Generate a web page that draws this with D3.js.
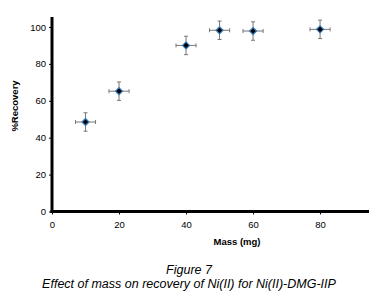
<!DOCTYPE html>
<html><head><meta charset="utf-8">
<script src="https://cdn.jsdelivr.net/npm/d3@7/dist/d3.min.js"></script>
<style>body{margin:0;background:#fff}svg{display:block}</style>
</head><body><svg width="376" height="300"></svg>
<script>
const mass = [10, 20, 40, 50, 60, 80];
const recovery = [48.5, 65.2, 90.0, 98.2, 97.8, 98.7];
const yErr = [5, 5, 5, 5, 5, 5];
const xErr = [3, 3, 3, 3, 3, 3];
const xTicks = [0, 20, 40, 60, 80];
const yTicks = [0, 20, 40, 60, 80, 100];

const svg = d3.select("svg");
const x = d3.scaleLinear().domain([0, 94.6]).range([52, 369]);
const y = d3.scaleLinear().domain([0, 105.4]).range([211.5, 17]);
const font = "Liberation Sans, Arial, sans-serif";

const ya = svg.append("g").attr("transform", "translate(52,0)")
  .call(d3.axisLeft(y).tickValues(yTicks).tickSize(3).tickPadding(3));
const xa = svg.append("g").attr("transform", "translate(0,211.5)")
  .call(d3.axisBottom(x).tickValues(xTicks).tickSize(3).tickPadding(7));
[ya, xa].forEach(a => {
  a.select(".domain").attr("stroke", "#000").attr("stroke-width", 3);
  a.selectAll(".tick line").attr("stroke", "#000");
  a.selectAll("text").attr("font-family", font).attr("font-size", 9.5).attr("fill", "#000");
});
ya.select(".domain").attr("d", `M0,${y(105.4)}V${y(0)+1.5}`);
xa.select(".domain").attr("d", `M${x(0)-1.5},0H${x(94.6)}`);

const data = mass.map((m, i) => ({m, r: recovery[i], ye: yErr[i], xe: xErr[i]}));
const eb = svg.append("g").attr("stroke", "#777").attr("stroke-width", 1);
data.forEach(d => {
  const cx = x(d.m), cy = y(d.r);
  eb.append("line").attr("x1", cx).attr("x2", cx).attr("y1", y(d.r + d.ye)).attr("y2", y(d.r - d.ye));
  eb.append("line").attr("x1", x(d.m - d.xe)).attr("x2", x(d.m + d.xe)).attr("y1", cy).attr("y2", cy);
  eb.append("line").attr("x1", cx - 2).attr("x2", cx + 2).attr("y1", y(d.r + d.ye)).attr("y2", y(d.r + d.ye));
  eb.append("line").attr("x1", cx - 2).attr("x2", cx + 2).attr("y1", y(d.r - d.ye)).attr("y2", y(d.r - d.ye));
  eb.append("line").attr("x1", x(d.m - d.xe)).attr("x2", x(d.m - d.xe)).attr("y1", cy - 2).attr("y2", cy + 2);
  eb.append("line").attr("x1", x(d.m + d.xe)).attr("x2", x(d.m + d.xe)).attr("y1", cy - 2).attr("y2", cy + 2);
});
svg.append("g").selectAll("path").data(data).join("path")
  .attr("d", d3.symbol(d3.symbolDiamond2, 32))
  .attr("transform", d => `translate(${x(d.m)},${y(d.r)})`)
  .attr("fill", "#000").attr("stroke", "#3b7fc0").attr("stroke-width", 1.2);

svg.append("text").attr("transform", "translate(18,106) rotate(-90)")
  .attr("text-anchor", "middle").attr("font-family", font).attr("font-weight", "bold")
  .attr("font-size", 9.5).text("%Recovery");
svg.append("text").attr("x", 237).attr("y", 244.5).attr("text-anchor", "middle")
  .attr("font-family", font).attr("font-weight", "bold").attr("font-size", 9.5).text("Mass (mg)");
svg.append("text").attr("x", 189).attr("y", 274).attr("text-anchor", "middle")
  .attr("font-family", font).attr("font-style", "italic").attr("font-size", 12.5).text("Figure 7");
svg.append("text").attr("x", 189).attr("y", 288).attr("text-anchor", "middle")
  .attr("font-family", font).attr("font-style", "italic").attr("font-size", 12.5)
  .text("Effect of mass on recovery of Ni(II) for Ni(II)-DMG-IIP");
</script></body></html>
